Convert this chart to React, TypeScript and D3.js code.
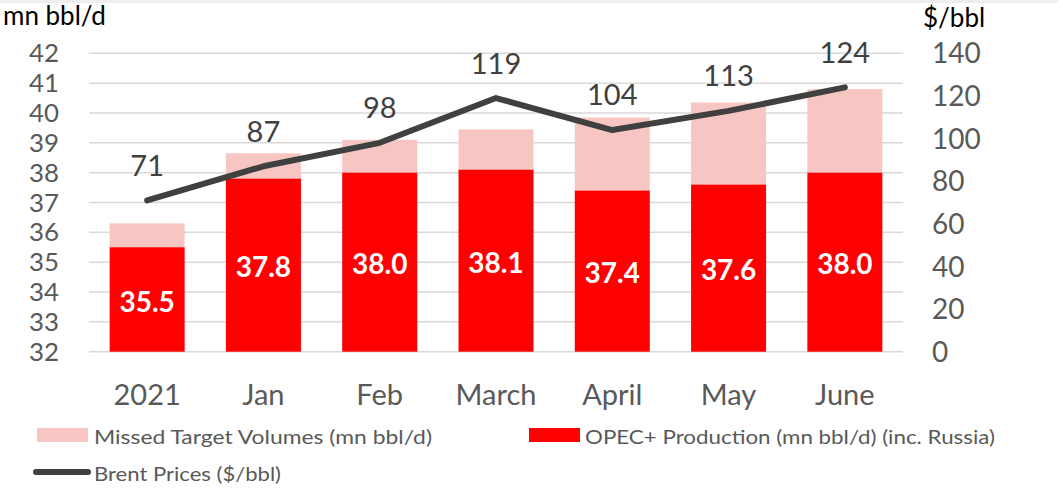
import * as d3 from "d3";

const categories = ["2021", "Jan", "Feb", "March", "April", "May", "June"];
const production = [35.5, 37.8, 38.0, 38.1, 37.4, 37.6, 38.0];
const missed = [0.8, 0.85, 1.1, 1.35, 2.45, 2.75, 2.8];
const brent = [71, 87, 98, 119, 104, 113, 124];
const leftTicks = [32, 33, 34, 35, 36, 37, 38, 39, 40, 41, 42];
const rightTicks = [0, 20, 40, 60, 80, 100, 120, 140];

const width = 1063;
const height = 490;
const left = 89;
const right = 903;
const top = 53.3;
const bottom = 351.7;
const font = "Lato, 'Open Sans', sans-serif";
const dark = "#404040";
const pink = "#F8C6C2";
const red = "#FF0000";

export default function App() {
  const x = d3.scaleBand(categories, [left, right]).paddingInner(0.355).paddingOuter(0.1775);
  const yL = d3.scaleLinear([32, 42], [bottom, top]);
  const yR = d3.scaleLinear([0, 140], [bottom, top]);
  const cx = (c: string) => (x(c) ?? 0) + x.bandwidth() / 2;
  const line = d3.line<number>((_d, i) => cx(categories[i]), (d) => yR(d));

  return (
    <div style={{ position: "absolute", left: 0, top: 0 }}>
      <svg width={width} height={height} style={{ display: "block", background: "#fff" }}>
        <rect x={0} y={0} width={1058} height={3} fill="#eeeeee" />
        <text x={3} y={25} fontFamily={font} fontSize={26} fill="#000">mn bbl/d</text>
        <text x={923} y={27} fontFamily={font} fontSize={26} fill="#000">$/bbl</text>

        {leftTicks.map((t) => (
          <g key={t}>
            <line x1={left} x2={right} y1={yL(t)} y2={yL(t)} stroke="#d9d9d9" strokeWidth={1.5} />
            <text x={59} y={yL(t)} dy="0.36em" textAnchor="end" fontFamily={font} fontSize={25}
              fill="#595959" textLength={30} lengthAdjust="spacingAndGlyphs">{t}</text>
          </g>
        ))}
        {rightTicks.map((t) => (
          <text key={t} x={932} y={yR(t)} dy="0.36em" fontFamily={font} fontSize={28} fill="#595959">{t}</text>
        ))}

        {categories.map((c, i) => (
          <g key={c}>
            <rect x={x(c)} width={x.bandwidth()} y={yL(production[i] + missed[i])}
              height={yL(production[i]) - yL(production[i] + missed[i])} fill={pink} />
            <rect x={x(c)} width={x.bandwidth()} y={yL(production[i])}
              height={yL(32) - yL(production[i])} fill={red} />
            <text x={cx(c)} y={(yL(production[i]) + yL(32)) / 2 + 2} dy="0.36em" textAnchor="middle"
              fontFamily={font} fontWeight="bold" fontSize={28} fill="#fff">{production[i].toFixed(1)}</text>
            <text x={cx(c)} y={395} dy="0.36em" textAnchor="middle" fontFamily={font} fontSize={29} fill="#595959">{c}</text>
          </g>
        ))}

        <path d={line(brent) || ""} fill="none" stroke={dark} strokeWidth={6} strokeLinecap="round" strokeLinejoin="round" />
        {brent.map((b, i) => (
          <text key={i} x={cx(categories[i])} y={yR(b) - 35} dy="0.36em" textAnchor="middle"
            fontFamily={font} fontSize={29} fill={dark}>{b}</text>
        ))}

        <rect x={37} y={428} width={51} height={14} fill={pink} />
        <text x={94} y={437} dy="0.35em" fontFamily={font} fontSize={19} fill="#595959"
          textLength={338} lengthAdjust="spacingAndGlyphs">Missed Target Volumes (mn bbl/d)</text>
        <rect x={529} y={428} width={51} height={14} fill={red} />
        <text x={585} y={437} dy="0.35em" fontFamily={font} fontSize={19} fill="#595959"
          textLength={410} lengthAdjust="spacingAndGlyphs">OPEC+ Production (mn bbl/d) (inc. Russia)</text>
        <line x1={36} x2={88} y1={472} y2={472} stroke={dark} strokeWidth={6} strokeLinecap="round" />
        <text x={94} y={474} dy="0.35em" fontFamily={font} fontSize={19} fill="#595959"
          textLength={187} lengthAdjust="spacingAndGlyphs">Brent Prices ($/bbl)</text>
      </svg>
    </div>
  );
}
